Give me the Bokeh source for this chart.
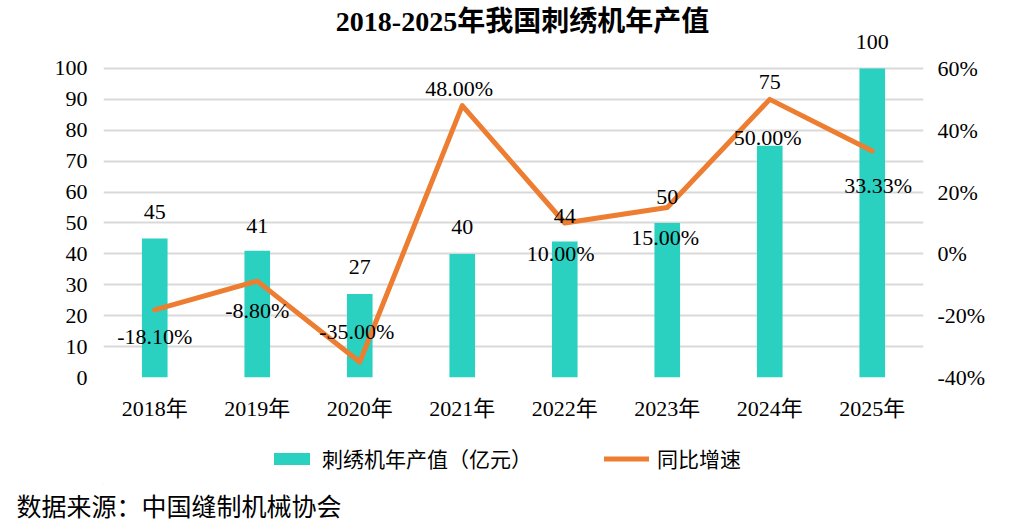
from bokeh.plotting import figure
from bokeh.layouts import column
from bokeh.models import (ColumnDataSource, LabelSet, Label, Range1d, LinearAxis,
                          FixedTicker, PrintfTickFormatter, Legend, LegendItem, Title)
from bokeh.embed import file_html
from bokeh.resources import INLINE

# ---- data ----
years = ["2018年", "2019年", "2020年", "2021年", "2022年", "2023年", "2024年", "2025年"]
output_value = [45, 41, 27, 40, 44, 50, 75, 100]          # 亿元
growth_rate = [-18.10, -8.80, -35.00, 48.00, 10.00, 15.00, 50.00, 33.33]  # %
left_ticks = [0, 10, 20, 30, 40, 50, 60, 70, 80, 90, 100]
right_ticks = [-40, -20, 0, 20, 40, 60]
title_text = "2018-2025年我国刺绣机年产值"
legend_labels = ["刺绣机年产值（亿元）", "同比增速"]
source_text = "数据来源：中国缝制机械协会"

# label placement (screen px, styling only)
bar_label_dy = [26, 25, 27, 27, 26, 26, 64, 26]
rate_label_dy = [-27, -29, 31, 17, -31, -30, -38, -35]
rate_label_dx = [0, 0, -3, -3, -4, -2, -2, 6]

SERIF = "Liberation Serif, Noto Sans CJK SC"
CJK = "Noto Sans CJK SC"
TEAL = "#2AD0C0"
ORANGE = "#ED7D31"
FS = "22px"

src = ColumnDataSource(dict(
    years=years,
    value=output_value,
    value_txt=[str(v) for v in output_value],
    rate=growth_rate,
    rate_txt=["%.2f%%" % g for g in growth_rate],
    bdy=bar_label_dy,
    rdy=rate_label_dy,
    rdx=rate_label_dx,
))

# main chart: frame spans from figure top down to the zero line
W, H1, H2 = 1010, 430, 92
p = figure(x_range=years, y_range=Range1d(0, 122), width=W, height=H1,
           output_backend="svg", toolbar_location=None,
           min_border_left=103, min_border_right=87, min_border_top=0, min_border_bottom=53)
p.outline_line_color = None
p.extra_y_ranges = {"pct": Range1d(-40, 82)}

p.xgrid.grid_line_color = None
p.ygrid.grid_line_color = "#D9D9D9"
p.ygrid.grid_line_width = 2
p.ygrid.ticker = FixedTicker(ticks=left_ticks)

def style_axis(ax, standoff):
    ax.axis_line_color = None
    ax.major_tick_line_color = None
    ax.minor_tick_line_color = None
    ax.major_tick_out = 0
    ax.major_tick_in = 0
    ax.minor_tick_out = 0
    ax.major_label_text_font = SERIF
    ax.major_label_text_font_size = FS
    ax.major_label_text_color = "#000000"
    ax.major_label_standoff = standoff

p.yaxis[0].ticker = FixedTicker(ticks=left_ticks)
style_axis(p.yaxis[0], 16)
style_axis(p.xaxis[0], 18)

rax = LinearAxis(y_range_name="pct", ticker=FixedTicker(ticks=right_ticks),
                 formatter=PrintfTickFormatter(format="%d%%"))
style_axis(rax, 14)
p.add_layout(rax, "right")

bars = p.vbar(x="years", top="value", width=0.25, source=src,
              fill_color=TEAL, line_color=None)
line = p.line(x="years", y="rate", source=src, y_range_name="pct",
              line_color=ORANGE, line_width=5, line_join="round", line_cap="round")

p.add_layout(LabelSet(x="years", y="value", text="value_txt", source=src,
                      y_offset="bdy", text_align="center", text_baseline="middle",
                      text_font=SERIF, text_font_size=FS, text_color="#000000"))
p.add_layout(LabelSet(x="years", y="rate", text="rate_txt", source=src,
                      y_range_name="pct", x_offset="rdx", y_offset="rdy",
                      text_align="center", text_baseline="middle",
                      text_font=SERIF, text_font_size=FS, text_color="#000000"))

# title (inside the frame's upper empty area)
p.add_layout(Label(x=419, y=356, x_units="screen", y_units="screen",
                   text=title_text, text_align="center",
                   text_baseline="middle", text_font=SERIF, text_font_size="28px",
                   text_font_style="bold", text_color="#000000"))

# footer figure: legend + source (frame aligned with the main chart's frame)
p2 = figure(x_range=Range1d(0, 820), y_range=Range1d(0, 1), width=W, height=H2,
            output_backend="svg", toolbar_location=None,
            x_axis_location=None, y_axis_location=None,
            min_border_left=103, min_border_right=87, min_border_top=0, min_border_bottom=34)
p2.outline_line_color = None
p2.grid.visible = False
dummy = ColumnDataSource(dict(x=[-100, -90], y=[-5, -5]))
lb = p2.vbar(x="x", top="y", width=1, source=dummy, fill_color=TEAL, line_color=None)
ll = p2.line(x="x", y="y", source=dummy, line_color=ORANGE, line_width=5, line_cap="round")

legend = Legend(items=[LegendItem(label=legend_labels[0], renderers=[lb]),
                       LegendItem(label=legend_labels[1], renderers=[ll])],
                orientation="horizontal", location=(166, 11),
                glyph_width=45, glyph_height=15, label_height=22,
                label_standoff=8, spacing=72, padding=0, margin=0,
                border_line_color=None, background_fill_alpha=0,
                label_text_font=CJK, label_text_font_size="21px",
                label_text_color="#000000")
p2.add_layout(legend, "center")

src_title = Title(text=source_text, align="left", offset=-87, standoff=0,
                  text_font=CJK, text_font_size="25px", text_font_style="normal",
                  text_color="#000000")
p2.add_layout(src_title, "below")

open("out.html", "w").write(file_html(column(p, p2, spacing=0), INLINE))
